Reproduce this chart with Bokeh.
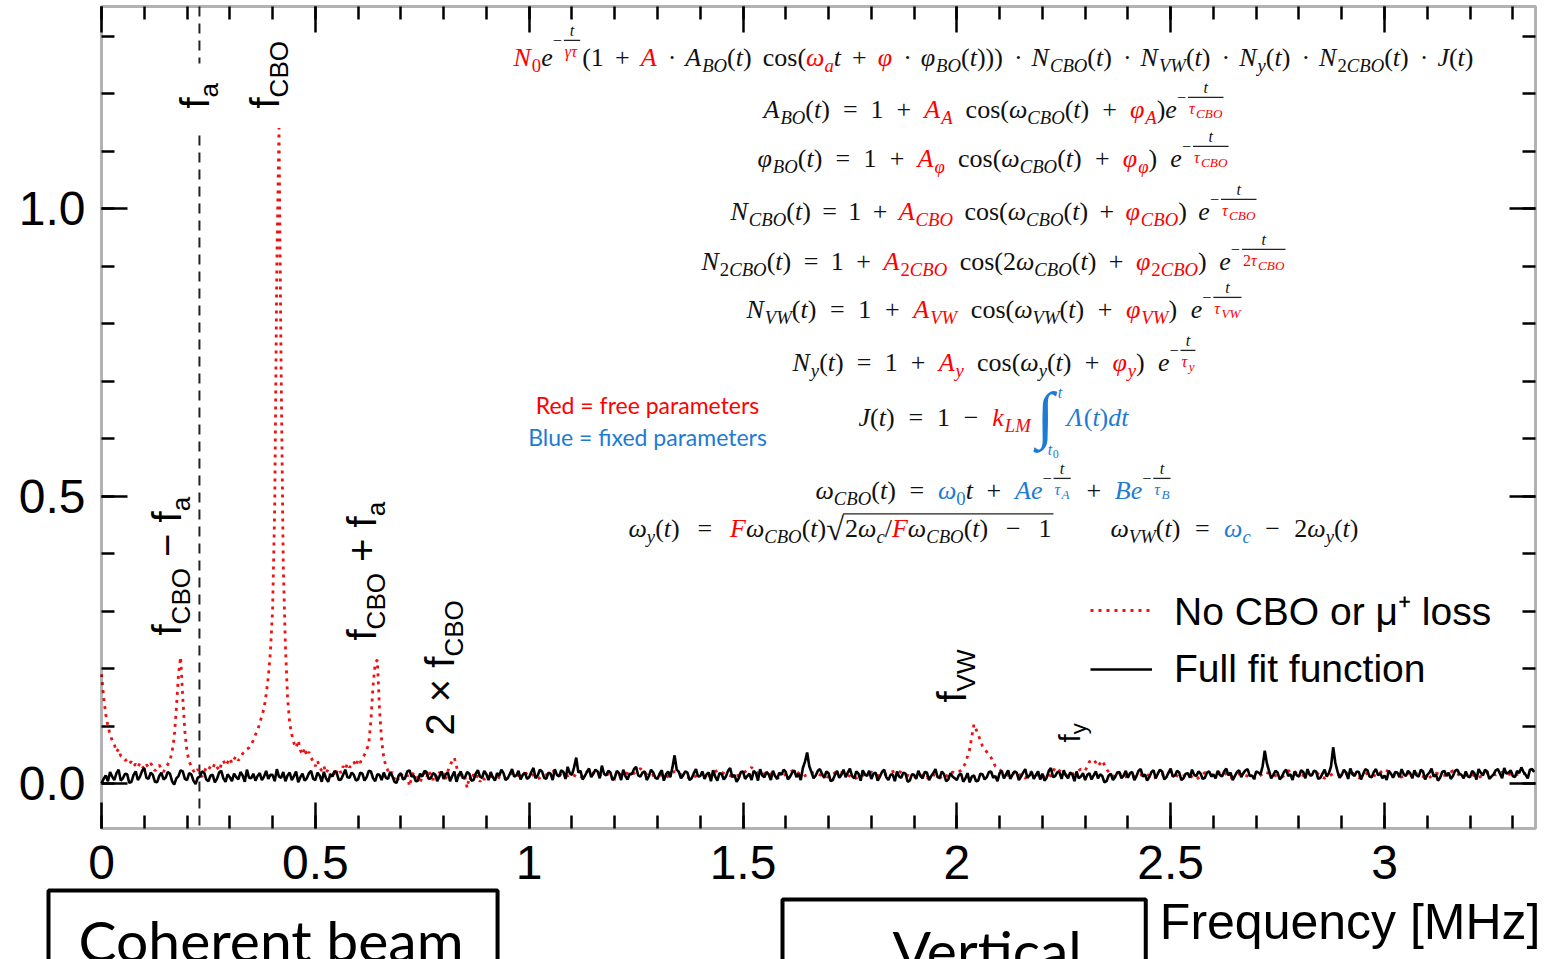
import math
import numpy as np
from bokeh.plotting import figure
from bokeh.models import Range1d, Label, LinearAxis, FixedTicker, BoxAnnotation
from bokeh.embed import file_html
from bokeh.resources import INLINE

# ---------------------------------------------------------------- data
# Full fit function (black): 0.000 .. 3.350 MHz every 0.005 MHz, values in 1e-3
full_fit_start, full_fit_step = 0.0, 0.005
full_fit_milli = [
    0, 8, 14, 4, 20, 12, 6, 18, 24, 5, 9, 17, 16, 1, 3, 15, 21, 6, 12, 22, 27, 10, 8, 19, 15, 3, 2, 13, 19, 7, 10, 20, 17, 4, -2, 9, 13, 23, 21, 8,
    6, 18, 16, 5, -1, 10, 12, 21, 19, 7, 4, 14, 15, 2, 8, 19, 22, 9, 3, 16, 11, 4, 17, 11, 7, 20, 14, 3, 24, 10, 9, 17, 5, 13, 18, 6, 12, 22, 8, 15,
    15, 4, 25, 12, 10, 20, 4, 14, 19, 6, 13, 21, 2, 11, 17, 5, 9, 18, 22, 8, 6, 19, 14, 3, 20, 9, 3, 16, 12, 22, 18, 6, 7, 15, 24, 11, 10, 19, 15, 5,
    7, 19, 17, 5, 11, 22, 21, 9, 4, 16, 15, 6, 19, 10, 8, 20, 13, 3, 1, 14, 18, 7, 10, 21, 23, 12, 14, 4, 5, 17, 12, 22, 20, 8, 9, 18, 16, 4, 12, 21,
    8, 16, 19, 4, 13, 21, 3, 14, 21, 9, 11, 20, 17, 5, 6, 17, 23, 12, 10, 22, 16, 6, 20, 11, 5, 18, 13, 24, 18, 6, 9, 17, 25, 12, 14, 22, 7, 15, 19, 8,
    11, 20, 27, 9, 14, 24, 21, 10, 8, 19, 17, 6, 25, 15, 12, 23, 20, 8, 29, 18, 15, 28, 45, 19, 22, 7, 13, 20, 26, 11, 17, 24, 21, 9, 31, 17, 14, 22, 19, 6,
    10, 22, 18, 6, 24, 13, 7, 17, 16, 25, 29, 14, 12, 19, 21, 6, 13, 24, 19, 10, 8, 17, 23, 5, 16, 21, 11, 28, 49, 24, 20, 9, 14, 21, 19, 6, 9, 18, 25, 12,
    13, 21, 8, 16, 19, 4, 23, 12, 5, 18, 17, 7, 12, 22, 27, 11, 15, 3, 9, 20, 21, 8, 13, 17, 6, 22, 18, 5, 25, 14, 11, 20, 16, 6, 22, 13, 8, 19, 15, 24,
    20, 7, 12, 19, 23, 11, 17, 6, 27, 38, 54, 30, 20, 9, 14, 22, 25, 16, 10, 21, 18, 4, 6, 15, 22, 10, 15, 24, 11, 19, 26, 13, 9, 21, 17, 5, 23, 16, 13, 22,
    8, 17, 19, 5, 12, 20, 24, 11, 6, 15, 16, 4, 21, 12, 10, 19, 17, 3, 5, 16, 15, 8, 22, 13, 9, 20, 19, 6, 13, 18, 25, 11, 10, 21, 16, 4, 7, 18, 12, 9,
    6, 15, 17, 3, 9, 18, 2, 12, 14, 4, 5, 17, 16, 7, 11, 20, 21, 10, 13, 4, 18, 22, 9, 16, 23, 8, 15, 21, 19, 6, 12, 19, 25, 10, 14, 20, 8, 15, 21, 7,
    17, 5, 10, 22, 27, 11, 13, 20, 19, 8, 23, 14, 9, 19, 16, 4, 21, 9, 12, 18, 6, 15, 18, 7, 14, 21, 9, 16, 13, 2, 4, 14, 17, 6, 11, 19, 20, 9, 14, 22,
    10, 18, 20, 6, 13, 22, 25, 12, 16, 5, 11, 20, 23, 9, 17, 24, 21, 7, 11, 19, 26, 12, 14, 22, 19, 6, 9, 17, 18, 10, 24, 15, 13, 21, 17, 8, 10, 19, 21, 12,
    16, 9, 22, 15, 12, 21, 26, 14, 19, 6, 13, 20, 23, 11, 18, 23, 25, 13, 14, 8, 21, 19, 16, 30, 57, 35, 22, 9, 15, 22, 19, 7, 12, 20, 24, 13, 16, 6, 21, 14,
    12, 23, 20, 9, 25, 15, 14, 22, 21, 8, 10, 17, 24, 12, 18, 30, 63, 36, 21, 10, 15, 24, 19, 8, 26, 16, 13, 21, 20, 7, 16, 25, 23, 12, 11, 20, 25, 14, 18, 9,
    14, 6, 22, 17, 10, 20, 19, 11, 25, 16, 13, 22, 18, 9, 23, 14, 12, 24, 21, 7, 15, 19, 26, 12, 16, 5, 10, 20, 22, 13, 19, 8, 13, 22, 24, 17, 15, 9, 21, 12,
    11, 22, 18, 7, 25, 19, 14, 24, 21, 8, 12, 16, 23, 25, 17, 9, 27, 17, 19, 23, 13, 11, 22, 18, 28, 20, 15, 9, 24, 25, 20,
]

# No CBO or mu+ loss (red dotted), four pieces sampled differently, values in 1e-3
no_cbo_a_start, no_cbo_a_step = 0.0, 0.005
no_cbo_a_milli = [
    190, 150, 120, 100, 85, 75, 68, 55, 60, 48, 45, 40, 42, 35, 38, 30, 34, 28, 36, 30,
    25, 33, 28, 35, 30, 22, 27, 32, 26, 20, 29, 33, 40, 55, 80, 130, 190, 220, 150, 90,
    55, 38, 30, 22, 18, 25, 15, 12, 20, 28, 24, 30, 26, 35, 29, 22, 33, 40, 31, 37,
    44, 35, 42, 48, 40, 45, 52, 55, 60, 62, 68, 75, 85, 92, 105, 118, 130, 155, 185, 230,
    300, 480, 900, 1140, 720, 380, 240, 150, 105, 85, 70, 62, 75, 58, 50, 62, 48, 55, 45, 38,
    30, 40, 28, 22, 30, 18, 25, 15, 22, 12, 20, 26, 18, 30, 24, 35, 28, 32, 38, 30,
    42, 36, 45, 50, 58, 70, 110, 170, 210, 215, 130, 75, 45, 30, 22, 15, 20, 8, 14, 5,
    12, 18, 6, 15, -5, 10, 20, 8, 15, 2, 12, 18, 9, 22, 14, 6, 16, 10, 20, 12,
    18, 8, 22, 30, 40, 45, 30, 15, 8, 18, 10, -8, 12, 5, 16, 9, 14, 3, 11, 7,
]
no_cbo_b_start, no_cbo_b_step = 0.90, 0.02
no_cbo_b_milli = [
    10, 14, 6, 18, 12, 20, 8, 15, 22, 11, 16, 9, 24, 13, 18, 7, 20, 15, 26, 12,
    17, 10, 21, 14, 8, 19, 13, 23, 16, 11, 18, 28, 14, 20, 9, 16, 24, 12, 19, 15,
    11, 21, 17, 8, 14, 20, 12, 18, 23, 15,
]
no_cbo_c_start, no_cbo_c_step = 1.90, 0.01
no_cbo_c_milli = [
    12, 8, 15, 10, 18, 13, 9, 16, 12, 20, 18, 23, 35, 60, 103, 85, 65, 55, 45, 30,
    24, 18, 14, 20, 12, 16, 9, 18, 22, 14, 10, 17, 13, 28, 22, 18, 12, 16, 20, 25,
    22, 38, 42, 30, 40, 25, 15, 12, 18, 10, 14,
]
no_cbo_d_start, no_cbo_d_step = 2.42, 0.02
no_cbo_d_milli = [
    12, 18, 9, 15, 21, 11, 16, 7, 19, 14, 22, 10, 17, 13, 8, 20, 15, 11, 24, 16,
    12, 19, 9, 17, 14, 21, 10, 18, 13, 25, 15, 11, 20, 16, 8, 18, 14, 22, 12, 17,
    10, 19, 15, 21, 13, 18, 16,
]

f_a_line = 0.229
x_ticks = [0, 0.5, 1, 1.5, 2, 2.5, 3]
x_tick_labels = ["0", "0.5", "1", "1.5", "2", "2.5", "3"]
y_ticks = [0, 0.5, 1.0]
y_tick_labels = ["0.0", "0.5", "1.0"]
series_names = ["No CBO or \u03bc\u207a loss", "Full fit function"]


def piece(start, step, milli):
    x = start + step * np.arange(len(milli))
    return x, np.array(milli, dtype=float) / 1000.0


fx, fy = piece(full_fit_start, full_fit_step, full_fit_milli)
parts = [piece(no_cbo_a_start, no_cbo_a_step, no_cbo_a_milli),
         piece(no_cbo_b_start, no_cbo_b_step, no_cbo_b_milli),
         piece(no_cbo_c_start, no_cbo_c_step, no_cbo_c_milli),
         piece(no_cbo_d_start, no_cbo_d_step, no_cbo_d_milli)]
rx = np.concatenate([q[0] for q in parts])
ry = np.concatenate([q[1] for q in parts])

# ---------------------------------------------------------------- geometry
W, H = 1550, 959
BOX_L, BOX_R, BOX_T, BOX_B = 101, 1535, 6, 828     # plot box in page pixels
PX_PER_X = 427.67
PX_PER_Y = 575.0
ZERO_X_PX, ZERO_Y_PX = 101.0, 783.0


def dx(px):
    return (px - ZERO_X_PX) / PX_PER_X


def dy(py):
    return (ZERO_Y_PX - py) / PX_PER_Y


X_LO, X_HI = dx(BOX_L), dx(BOX_R)
Y_LO, Y_HI = dy(BOX_B), dy(BOX_T)

p = figure(width=W, height=H, x_range=Range1d(dx(0), dx(W)), y_range=Range1d(dy(H), dy(0)),
           output_backend="svg", toolbar_location=None, min_border=0)
p.min_border_left = p.min_border_right = p.min_border_top = p.min_border_bottom = 0
p.xgrid.visible = False
p.ygrid.visible = False
p.outline_line_color = None
p.background_fill_color = "white"
p.border_fill_color = "white"

x_minor = [round(0.1 * i, 2) for i in range(0, 34)]
y_minor = [round(0.1 * i, 2) for i in range(0, 14)]


def tick_style(ax):
    ax.axis_line_color = None
    ax.major_tick_line_color = "black"
    ax.minor_tick_line_color = "black"
    ax.major_tick_line_width = 2.5
    ax.minor_tick_line_width = 2.5
    ax.major_tick_in = 26
    ax.major_tick_out = 0
    ax.minor_tick_in = 13
    ax.minor_tick_out = 0
    ax.major_label_text_color = "black"
    ax.major_label_text_font = "Liberation Sans"
    ax.major_label_text_font_size = "48px"


xa = p.xaxis[0]
xa.fixed_location = Y_LO
xa.ticker = FixedTicker(ticks=x_ticks, minor_ticks=x_minor)
xa.major_label_overrides = {t: l for t, l in zip(x_ticks, x_tick_labels)}
xa.major_label_standoff = 17
tick_style(xa)

ya = p.yaxis[0]
ya.fixed_location = X_LO
ya.ticker = FixedTicker(ticks=y_ticks, minor_ticks=y_minor)
ya.major_label_overrides = {t: l for t, l in zip(y_ticks, y_tick_labels)}
ya.major_label_standoff = 16
tick_style(ya)

# mirrored ticks on top and right (tick marks only, no labels)
for side, loc, majors, minors in [("above", Y_HI, x_ticks, x_minor), ("right", X_HI, y_ticks, y_minor)]:
    for tick_list, length in [(minors, 13), (majors, 26)]:
        ax = LinearAxis(fixed_location=loc, ticker=FixedTicker(ticks=[], minor_ticks=list(tick_list)))
        ax.axis_line_color = None
        ax.major_tick_line_color = None
        ax.minor_tick_line_color = "black"
        ax.minor_tick_line_width = 2.5
        ax.minor_tick_in = length
        ax.minor_tick_out = 0
        ax.major_label_standoff = 0
        p.add_layout(ax, side)

p.add_layout(BoxAnnotation(left=X_LO, right=X_HI, bottom=Y_LO, top=Y_HI, fill_alpha=0,
                           line_color="black", line_width=3))

# f_a dashed marker (gap around its label)
p.line([f_a_line, f_a_line], [Y_HI, dy(63)], line_color="#222222", line_width=2, line_dash="10 7")
p.line([f_a_line, f_a_line], [dy(135), Y_LO], line_color="#222222", line_width=2, line_dash="10 7")

p.line(rx, ry, line_color="#ee1111", line_width=2.8, line_dash="3 5", legend_label=series_names[0])
p.line(fx, fy, line_color="black", line_width=2.6, legend_label=series_names[1])

leg = p.legend[0]
leg.location = (1090, H - 693)
leg.label_text_font = "Liberation Sans"
leg.label_text_font_size = "39px"
leg.label_text_color = "black"
leg.glyph_width = 62
leg.glyph_height = 48
leg.label_height = 48
leg.spacing = 9
leg.label_standoff = 22
leg.padding = 0
leg.margin = 0
leg.border_line_color = None
leg.background_fill_alpha = 0

# ---------------------------------------------------------------- text helpers
K, R, B = "#111111", "#ff0000", "#1e7bd4"
SERIF = "Liberation Serif"
SANS = "Liberation Sans"
BASE_K = 0.38   # renderer places the alphabetic baseline this many ems low


def put(text, px, py, size, color, font, style="normal", angle=0.0, align="left"):
    off = BASE_K * size
    if angle == 0.0:
        py -= off
    else:
        px -= off
    p.add_layout(Label(x=dx(px), y=dy(py), text=text, text_font=font,
                       text_font_size="%.1fpx" % size, text_font_style=style,
                       text_color=color, text_align=align, text_baseline="alphabetic",
                       angle=angle))


# rotated peak labels (Helvetica-like)
SANS_W = {"f": 0.278, "a": 0.556, "C": 0.722, "B": 0.667, "O": 0.778, "V": 0.667,
          "W": 0.944, "y": 0.5, " ": 0.278, "\u2212": 0.584, "+": 0.584, "\u00d7": 0.584,
          "2": 0.556}


def sw(t):
    return sum(SANS_W.get(c, 0.556) for c in t)


peak_labels = [
    (210, 108, [("f", 40, 0), ("a", 26, 8)]),
    (280, 108, [("f", 40, 0), ("CBO", 26, 8)]),
    (182, 635, [("f", 40, 0), ("CBO", 26, 8), (None, 40, 0), ("\u2212 f", 40, 0), ("a", 26, 8)]),
    (377, 640, [("f", 40, 0), ("CBO", 26, 8), (None, 40, 0), ("+ f", 40, 0), ("a", 26, 8)]),
    (455, 735, [("2 \u00d7 f", 40, 0), ("CBO", 26, 8)]),
    (967, 702, [("f", 40, 0), ("VW", 26, 8)]),
    (1080, 742, [("f", 30, 0), ("y", 22, 6)]),
]
for bx, by, pieces in peak_labels:
    y = by
    for txt, size, shift in pieces:
        if txt is None:
            y -= 0.278 * size
            continue
        put(txt, bx + shift, y, size, "black", SANS, angle=math.pi / 2)
        y -= sw(txt) * size

# equations, laid out piece by piece
SERIF_W = {" ": 0.25, "(": 0.333, ")": 0.333, "+": 0.564, "=": 0.564, "\u2212": 0.564,
           "\u00b7": 0.25, "/": 0.278, "0": 0.5, "1": 0.5, "2": 0.5, "A": 0.611, "B": 0.611,
           "C": 0.667, "F": 0.611, "J": 0.444, "L": 0.556, "M": 0.833, "N": 0.667, "O": 0.722,
           "V": 0.611, "W": 0.833, "a": 0.5, "c": 0.444, "d": 0.5, "e": 0.444, "k": 0.444,
           "o": 0.5, "s": 0.389, "t": 0.278, "y": 0.444, "\u03c9": 0.667, "\u03c6": 0.55,
           "\u03c4": 0.44, "\u03b3": 0.45, "\u039b": 0.65}
SUBF, EXPF, DENSUB = 0.72, 0.62, 0.82
EQ_SIZE = 26
bars = []


def tw(t):
    return sum(SERIF_W.get(c, 0.5) for c in t)


def split_runs(t):
    out = []
    i = 0
    while i < len(t):
        if t.startswith("cos", i):
            seg, it, i = "cos", False, i + 3
        else:
            seg, it, i = t[i], t[i].isalpha(), i + 1
        if out and out[-1][1] == it:
            out[-1][0] += seg
        else:
            out.append([seg, it])
    return out


def draw_text(t, x, base, size, color):
    for seg, it in split_runs(t):
        put(seg, x, base, size, color, SERIF, "italic" if it else "normal")
        x += tw(seg) * size


def M(t, c=K):
    return ("m", t, c)


def S(t, c=K):
    return ("s", t, c)


SP = ("sp",)


def G(w):
    return ("g", w)


def E(num, den, r=0):
    return ("e", num, den, r)


def SQ(inner):
    return ("sq", inner)


def INT(c):
    return ("int", c)


def small_w(items, sm):
    return sum(tw(t) * sm * (1 if k == "m" else DENSUB) for k, t, c in items)


def draw_small(items, x, base, sm):
    for k, t, c in items:
        if k == "m":
            draw_text(t, x, base, sm, c)
            x += tw(t) * sm
        else:
            draw_text(t, x, base + 0.2 * sm, sm * DENSUB, c)
            x += tw(t) * sm * DENSUB


def item_w(it, s, spw):
    k = it[0]
    if k == "m":
        return tw(it[1]) * s
    if k == "s":
        return tw(it[1]) * s * SUBF + 1
    if k == "sp":
        return spw
    if k == "g":
        return it[1]
    if k == "e":
        sm = s * EXPF
        return tw("\u2212") * sm + 2 + max(small_w(it[1], sm), small_w(it[2], sm)) + 4
    if k == "sq":
        return 0.55 * 1.25 * s + sum(item_w(x, s, spw) for x in it[1]) + 3
    if k == "int":
        return 30
    return 0


def count_sp(items):
    n = 0
    for it in items:
        if it[0] == "sp":
            n += 1
        elif it[0] == "sq":
            n += count_sp(it[1])
    return n


def draw_items(items, x, base, s, spw):
    for it in items:
        k = it[0]
        if k == "m":
            draw_text(it[1], x, base, s, it[2])
        elif k == "s":
            draw_text(it[1], x + 1, base + 0.2 * s, s * SUBF, it[2])
        elif k == "e":
            sm = s * EXPF
            r = it[3]
            put("\u2212", x, base - 0.62 * s - r, sm, K, SERIF)
            fx0 = x + tw("\u2212") * sm + 2
            nw, dw = small_w(it[1], sm), small_w(it[2], sm)
            fw = max(nw, dw) + 2
            draw_small(it[1], fx0 + (fw - nw) / 2, base - 0.98 * s - r, sm)
            draw_small(it[2], fx0 + (fw - dw) / 2, base - 0.17 * s - r, sm)
            bars.append((fx0, fx0 + fw, base - 0.85 * s - r))
        elif k == "sq":
            s2 = 1.25 * s
            put("\u221a", x, base + 3, s2, K, SERIF)
            ix = x + 0.55 * s2
            inner_w = sum(item_w(q, s, spw) for q in it[1])
            draw_items(it[1], ix + 1, base, s, spw)
            bars.append((ix - 1, ix + inner_w + 3, base - 0.95 * s))
        elif k == "int":
            c = it[1]
            put("\u222b", x, base + 11, 63, c, SERIF)
            put("t", x + 21, base - 29, 16, c, SERIF, "italic")
            put("t", x + 11, base + 28, 16, c, SERIF, "italic")
            put("0", x + 16, base + 31, 12, c, SERIF)
        x += item_w(it, s, spw)


def eq_line(items, x0, x1, base, s=EQ_SIZE):
    nsp = count_sp(items)
    spw = 0.25 * s
    natural = sum(item_w(it, s, spw) for it in items)
    if nsp and x1 is not None:
        fixed = natural - nsp * spw
        spw = max(0.2 * s, (x1 - x0 - fixed) / nsp)
    draw_items(items, x0, base, s, spw)


def cbo_like(lhs, lhs_sub, amp_sub, om_pre, om_sub, ph_sub, tau_pre, tau_sub, gap_e=True):
    items = [M(lhs), S(lhs_sub), M("(t)"), SP, M("="), SP, M("1"), SP, M("+"), SP,
             M("A", R), S(amp_sub, R), SP, M("cos(" + om_pre + "\u03c9"), S(om_sub), M("(t)"),
             SP, M("+"), SP, M("\u03c6", R), S(ph_sub, R), M(")")]
    if gap_e:
        items.append(SP)
    items += [M("e"), E([("m", "t", K)], [("m", tau_pre + "\u03c4", R), ("s", tau_sub, R)])]
    return items


L1 = [M("N", R), S("0", R), M("e"), E([("m", "t", K)], [("m", "\u03b3\u03c4", R)], 5),
      M("(1"), SP, M("+"), SP, M("A", R), SP, M("\u00b7"), SP, M("A"), S("BO"), M("(t)"), SP,
      M("cos("), M("\u03c9", R), S("a", R), M("t"), SP, M("+"), SP, M("\u03c6", R), SP,
      M("\u00b7"), SP, M("\u03c6"), S("BO"), M("(t)))"), SP, M("\u00b7"), SP, M("N"), S("CBO"),
      M("(t)"), SP, M("\u00b7"), SP, M("N"), S("VW"), M("(t)"), SP, M("\u00b7"), SP, M("N"),
      S("y"), M("(t)"), SP, M("\u00b7"), SP, M("N"), S("2CBO"), M("(t)"), SP, M("\u00b7"), SP,
      M("J(t)")]
eq_line(L1, 513, 1473, 67)
eq_line(cbo_like("A", "BO", "A", "", "CBO", "A", "", "CBO", gap_e=False), 763, 1225, 119)
eq_line(cbo_like("\u03c6", "BO", "\u03c6", "", "CBO", "\u03c6", "", "CBO"), 757, 1230, 168)
eq_line(cbo_like("N", "CBO", "CBO", "", "CBO", "CBO", "", "CBO"), 730, 1258, 221)
eq_line(cbo_like("N", "2CBO", "2CBO", "2", "CBO", "2CBO", "2", "CBO"), 701, 1287, 271)
eq_line(cbo_like("N", "VW", "VW", "", "VW", "VW", "", "VW"), 746, 1243, 319)
eq_line(cbo_like("N", "y", "y", "", "y", "y", "", "y"), 792, 1197, 372)
L8 = [M("J(t)"), SP, M("="), SP, M("1"), SP, M("\u2212"), SP, M("k", R), S("LM", R), G(6),
      INT(B), M("\u039b(t)dt", B)]
eq_line(L8, 858, 1128, 427)
L9 = [M("\u03c9"), S("CBO"), M("(t)"), SP, M("="), SP, M("\u03c9", B), S("0", B), M("t"), SP,
      M("+"), SP, M("Ae", B), E([("m", "t", K)], [("m", "\u03c4", B), ("s", "A", B)]), SP,
      M("+"), SP, M("Be", B), E([("m", "t", K)], [("m", "\u03c4", B), ("s", "B", B)])]
eq_line(L9, 815, 1172, 500)
L10a = [M("\u03c9"), S("y"), M("(t)"), SP, M("="), SP, M("F", R), M("\u03c9"), S("CBO"), M("(t)"),
        SQ([M("2\u03c9"), S("c"), M("/"), M("F", R), M("\u03c9"), S("CBO"), M("(t)"), SP,
            M("\u2212"), SP, M("1")])]
eq_line(L10a, 628, 1053, 538)
L10b = [M("\u03c9"), S("VW"), M("(t)"), SP, M("="), SP, M("\u03c9", B), S("c", B), SP,
        M("\u2212"), SP, M("2\u03c9"), S("y"), M("(t)")]
eq_line(L10b, 1110, 1358, 538)

if bars:
    p.segment(x0=[dx(b[0]) for b in bars], y0=[dy(b[2]) for b in bars],
              x1=[dx(b[1]) for b in bars], y1=[dy(b[2]) for b in bars],
              line_color="#222222", line_width=1.3)

put("Red = free parameters", 647, 413, 23, R, "Lato", align="center")
put("Blue = fixed parameters", 647, 445, 23, B, "Lato", align="center")

# x-axis title and boxed captions below the plot box
put("Frequency [MHz]", 1540, 940, 50, "black", SANS, align="right")
# padding order here: (left, right, top, bottom)
p.add_layout(Label(x=dx(48), y=dy(890), text="Coherent beam", text_font="Lato",
                   text_font_size="57px", text_align="left", text_baseline="top",
                   text_color="black", border_line_color="black", border_line_width=4,
                   background_fill_color="white", padding=(30, 34, 15, 30)))
p.add_layout(Label(x=dx(782), y=dy(899), text="Vertical", text_font="Lato",
                   text_font_size="57px", text_align="left", text_baseline="top",
                   text_color="black", border_line_color="black", border_line_width=4,
                   background_fill_color="white", padding=(110, 64, 16, 30)))

open("out.html", "w").write(file_html(p, INLINE))
